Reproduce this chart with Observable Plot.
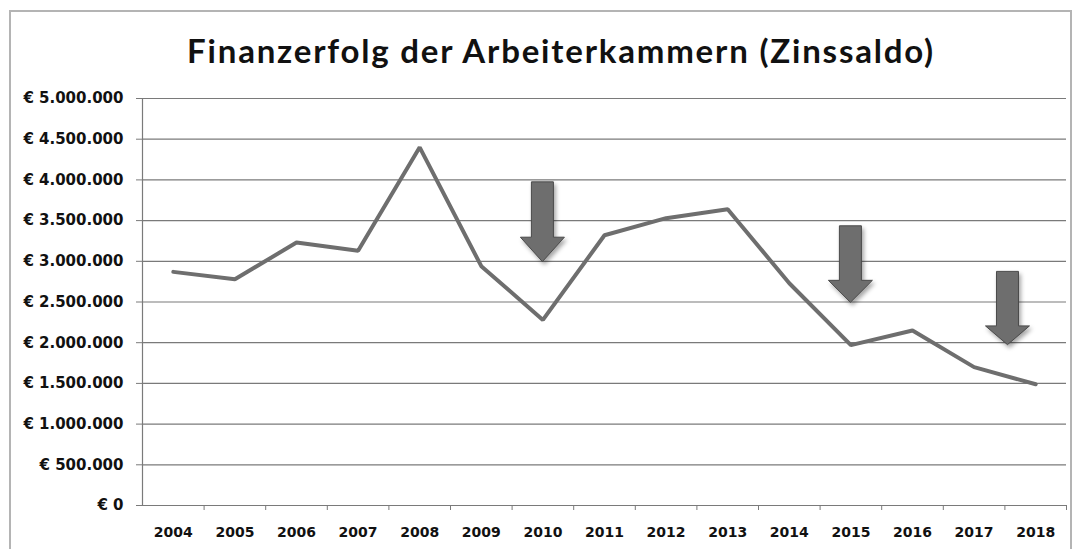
<!DOCTYPE html>
<html>
<head>
<meta charset="utf-8">
<script src="https://cdn.jsdelivr.net/npm/d3@7"></script>
<script src="https://cdn.jsdelivr.net/npm/@observablehq/plot@0.6"></script>
<style>
  html, body { margin: 0; padding: 0; background: #fff; overflow: hidden; }
  #wrap { position: relative; width: 1079px; height: 549px; }
  #frame { position: absolute; left: 9px; top: 10px; width: 1063px; height: 600px; border: 2px solid #b4b4b4; box-sizing: border-box; }
  #title { position: absolute; top: 31px; left: 561px; transform: translateX(-50%); white-space: nowrap;
           font-family: Lato, "Open Sans", sans-serif; font-weight: bold; font-size: 33px; letter-spacing: 1.8px; line-height: 38px; color: #111; }
  #chart { position: absolute; left: 0; top: 80px; }
</style>
</head>
<body>
<div id="wrap">
  <div id="frame"></div>
  <div id="title">Finanzerfolg der Arbeiterkammern (Zinssaldo)</div>
  <div id="chart"></div>
</div>
<script>
// Data
const years = [2004, 2005, 2006, 2007, 2008, 2009, 2010, 2011, 2012, 2013, 2014, 2015, 2016, 2017, 2018];
const zinssaldo = [2870000, 2780000, 3230000, 3130000, 4400000, 2940000, 2280000, 3320000, 3530000, 3640000, 2730000, 1970000, 2150000, 1700000, 1490000];
const yTicks = [0, 500000, 1000000, 1500000, 2000000, 2500000, 3000000, 3500000, 4000000, 4500000, 5000000];
// Down arrows (annotation): x position (year), top value, head start value, tip value
const arrowX = [2010, 2015, 2017.55];
const arrowTop = [3970000, 3430000, 2870000];
const arrowHead = [3290000, 2760000, 2200000];
const arrowTip = [2990000, 2490000, 1970000];

const data = years.map((y, i) => ({year: y, value: zinssaldo[i]}));
const arrows = arrowX.map((x, i) => ({x, top: arrowTop[i], head: arrowHead[i], tip: arrowTip[i]}));
const boundaries = years.map(y => y + 0.5);

const locale = d3.formatLocale({decimal: ",", thousands: ".", grouping: [3], currency: ["€ ", ""]});
const fmt = locale.format("$,");

const arrowMark = (index, scales) => {
  const g = d3.create("svg:g").attr("style", "filter: drop-shadow(2px 3px 2px rgba(0,0,0,0.35))");
  for (const a of arrows) {
    const cx = scales.x(a.x), yt = scales.y(a.top), yh = scales.y(a.head), yp = scales.y(a.tip);
    const s = 11, h = 22;
    const pts = [[cx - s, yt], [cx + s, yt], [cx + s, yh], [cx + h, yh], [cx, yp], [cx - h, yh], [cx - s, yh]];
    g.append("polygon")
      .attr("points", pts.map(p => p.join(",")).join(" "))
      .attr("fill", "#6e6e6e")
      .attr("stroke", "#4a4a4a")
      .attr("stroke-width", 1);
  }
  return g.node();
};

const plot = Plot.plot({
  width: 1079,
  height: 469,
  marginTop: 18,
  marginBottom: 44,
  marginLeft: 142,
  marginRight: 13,
  style: {fontFamily: "DejaVu Sans", fontWeight: "bold", fontSize: "14px", color: "#111", background: "transparent"},
  x: {domain: [2003.5, 2018.5]},
  y: {domain: [0, 5000000]},
  marks: [
    Plot.ruleY(yTicks, {stroke: "#7a7a7a", strokeWidth: 1.2}),
    Plot.ruleX([2003.5], {y1: 0, y2: 5000000, stroke: "#7a7a7a", strokeWidth: 1.2}),
    Plot.axisY({ticks: yTicks, tickFormat: fmt, tickSize: 6, tickPadding: 13, label: null,
                fontSize: 15, fontWeight: "bold", stroke: "#7a7a7a", fill: "#111"}),
    Plot.axisX({ticks: boundaries, tickFormat: () => "", tickSize: 5, label: null, stroke: "#7a7a7a"}),
    Plot.axisX({ticks: years, tickFormat: d => String(d), tickSize: 0, tickPadding: 22, label: null,
                fontSize: 14, fontWeight: "bold", fill: "#111"}),
    Plot.line(data, {x: "year", y: "value", stroke: "#6e6e6e", strokeWidth: 4, strokeLinejoin: "miter"}),
    arrowMark
  ]
});
document.getElementById("chart").appendChild(plot);
</script>
</body>
</html>
